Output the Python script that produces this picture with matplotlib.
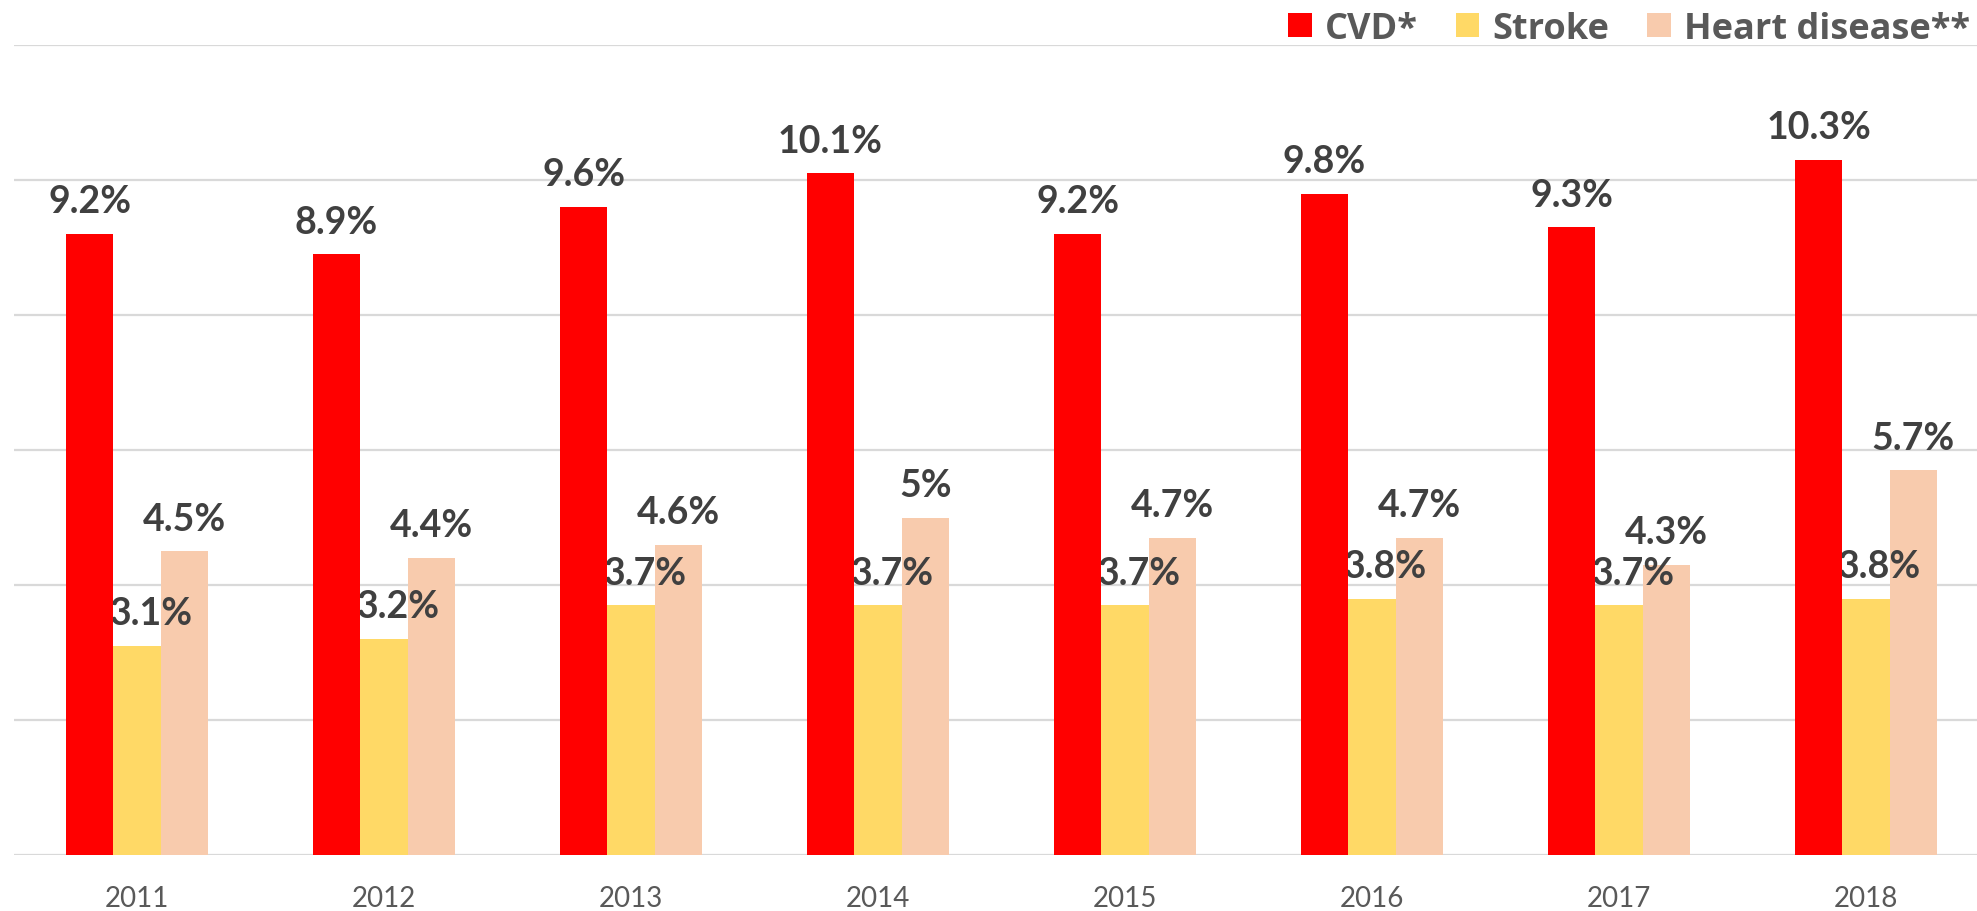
import matplotlib.pyplot as plt
import numpy as np

years = ['2011', '2012', '2013', '2014', '2015', '2016', '2017', '2018']
cvd = [9.2, 8.9, 9.6, 10.1, 9.2, 9.8, 9.3, 10.3]
stroke = [3.1, 3.2, 3.7, 3.7, 3.7, 3.8, 3.7, 3.8]
heart = [4.5, 4.4, 4.6, 5.0, 4.7, 4.7, 4.3, 5.7]

plt.rcParams['font.family'] = ['Lato', 'DejaVu Sans']

fig = plt.figure(figsize=(19.77, 9.12), dpi=100)
ax = fig.add_axes([13.5 / 1977, 56 / 912, 1 - 13.5 / 1977, 810 / 912])

x = np.arange(len(years))
w = 0.192
lab_col = '#404040'

b1 = ax.bar(x - w, cvd, w, color='#FF0000', zorder=4, label='CVD*')
b2 = ax.bar(x, stroke, w, color='#FFD966', zorder=2, label='Stroke')
b3 = ax.bar(x + w, heart, w, color='#F8CBAD', zorder=2, label='Heart disease**')

def fmt(v):
    return f'{v:g}%'

# etiquetas de datos
for i in range(len(years)):
    ax.annotate(fmt(cvd[i]), (x[i] - w, cvd[i]), xytext=(0, 15.5), textcoords='offset points',
                ha='center', va='baseline', fontsize=27, fontweight='bold', color=lab_col, zorder=5)
    ax.annotate(fmt(stroke[i]), (x[i], stroke[i]), xytext=(10, 15.5), textcoords='offset points',
                ha='center', va='baseline', fontsize=27, fontweight='bold', color=lab_col, zorder=3)
    ax.annotate(fmt(heart[i]), (x[i] + w, heart[i]), xytext=(0, 15.5), textcoords='offset points',
                ha='center', va='baseline', fontsize=27, fontweight='bold', color=lab_col, zorder=5)

ax.set_ylim(0, 12)
ax.set_xlim(-0.5, 7.5 - 12.5 / 247)
ax.set_yticks(np.arange(0, 13, 2))
ax.yaxis.grid(True, color='#D9D9D9', linewidth=1.6, zorder=0)
ax.set_axisbelow(True)
ax.tick_params(axis='y', left=False, labelleft=False)
ax.tick_params(axis='x', bottom=False, pad=18, labelsize=20, labelcolor='#595959')
ax.set_xticks(x)
ax.set_xticklabels(years)
for s in ax.spines.values():
    s.set_visible(False)

leg = fig.legend(handles=[b1, b2, b3], loc='center right', bbox_to_anchor=(1970 / 1977, 1 - 30 / 912), ncol=3,
                 frameon=False, prop={'family': ['Open Sans', 'DejaVu Sans'], 'weight': 'bold', 'size': 26},
                 handlelength=0.66, handleheight=0.64, handletextpad=0.36, columnspacing=1.05,
                 borderaxespad=0, borderpad=0)
for t in leg.get_texts():
    t.set_color('#595959')

fig.savefig('out.png', dpi=100)
